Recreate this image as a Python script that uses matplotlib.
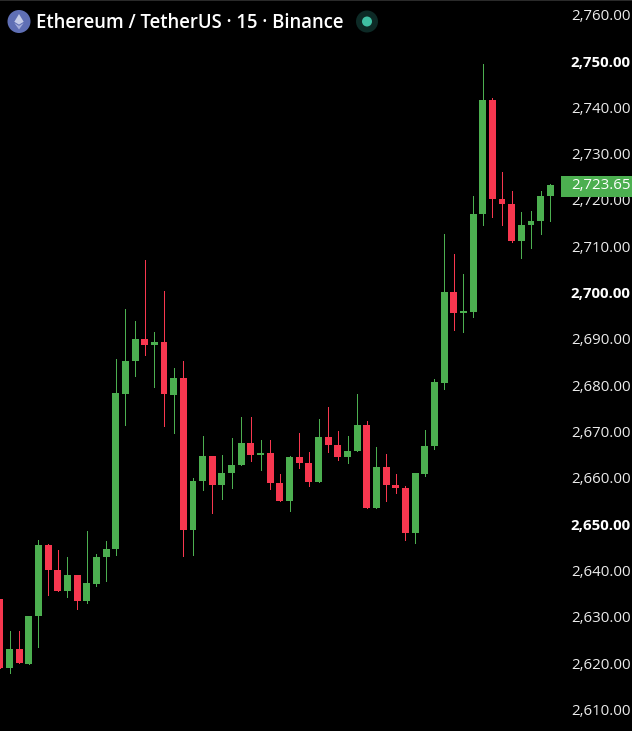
import matplotlib
matplotlib.use("Agg")
import matplotlib.pyplot as plt
from matplotlib.patches import Circle, Polygon, Rectangle

opens = [2634.3,2619.4,2623.5,2620.3,2630.7,2645.9,2640.6,2636.1,2639.5,2633.9,2637.6,2643.3,2645.0,2678.5,2685.6,2690.4,2689.0,2689.7,2678.4,2682.0,
         2649.2,2659.7,2665.1,2658.9,2661.5,2663.2,2667.9,2665.4,2665.8,2659.4,2655.5,2664.9,2663.7,2659.6,2669.2,2667.6,2665.0,2666.2,2671.8,2654.0,
         2662.8,2658.8,2658.3,2648.6,2661.3,2667.2,2681.0,2700.5,2695.9,2696.3,2717.3,2742.0,2720.5,2719.6,2711.6,2715.0,2715.9,2721.3]
highs = [2634.3,2627.4,2627.4,2630.7,2647.0,2646.1,2644.9,2643.3,2639.5,2649.0,2644.0,2646.8,2686.1,2696.8,2694.3,2707.4,2691.9,2700.8,2684.1,2685.6,
         2660.4,2669.5,2665.1,2665.4,2669.0,2673.6,2673.6,2668.6,2668.6,2661.3,2665.1,2670.1,2666.0,2673.1,2675.7,2670.5,2669.5,2678.5,2672.7,2667.1,
         2665.6,2661.3,2658.7,2661.5,2670.8,2681.8,2713.1,2708.7,2704.4,2721.3,2749.8,2742.4,2726.4,2722.3,2717.8,2718.0,2722.3,2723.9]
lows = [2619.4,2618.2,2620.5,2620.3,2624.0,2635.1,2636.1,2634.8,2632.2,2633.5,2637.1,2638.2,2643.8,2671.9,2682.3,2687.0,2680.1,2671.7,2670.0,2643.6,
        2643.8,2657.9,2652.9,2655.9,2658.3,2663.2,2664.1,2662.2,2658.1,2655.5,2653.3,2662.6,2658.7,2659.6,2665.9,2664.3,2663.7,2666.2,2654.0,2654.0,
        2655.5,2657.2,2646.9,2646.4,2660.9,2666.7,2679.5,2692.4,2691.8,2695.2,2715.1,2716.8,2715.1,2711.3,2707.9,2710.1,2713.1,2715.9]
closes = [2619.4,2623.5,2620.5,2630.7,2645.9,2640.6,2636.1,2639.5,2633.9,2637.7,2643.3,2645.0,2678.7,2685.6,2690.4,2689.0,2689.7,2678.6,2682.0,2649.2,
          2659.7,2665.1,2658.9,2661.5,2663.2,2667.9,2665.4,2665.8,2659.4,2655.5,2664.9,2663.7,2659.6,2669.2,2667.6,2665.0,2666.2,2671.8,2654.0,2662.8,
          2658.8,2658.3,2648.6,2661.5,2667.3,2681.1,2700.5,2696.1,2696.4,2717.4,2742.0,2720.5,2719.6,2711.6,2715.0,2715.9,2721.3,2723.65]
price_ticks = [2610,2620,2630,2640,2650,2660,2670,2680,2690,2700,2710,2720,2730,2740,2750,2760]
bold_ticks = [2650,2700,2750]
last_price = 2723.65
title = "Ethereum / TetherUS · 15 · Binance"

GREEN, RED = "#4CAF50", "#F7374F"
W, H = 632, 731
FONT = "Open Sans"

fig = plt.figure(figsize=(W/100, H/100), dpi=100, facecolor="black")
ax = fig.add_axes([0, 0, 1, 1], facecolor="black")
ax.set_xlim(0.0155, 65.46)
ax.set_ylim(2605.78, 2763.56)

for i, (o, h, l, c) in enumerate(zip(opens, highs, lows, closes)):
    col = GREEN if c >= o else RED
    ax.vlines(i, l, h, color=col, linewidth=0.72, antialiased=False, zorder=2)
    ax.bar(i, abs(c - o), bottom=min(o, c), width=0.72, color=col, linewidth=0, zorder=3)

ax.yaxis.tick_right()
ax.set_yticks(price_ticks)
ax.set_yticklabels([f"{p:,.2f}" for p in price_ticks])
ax.tick_params(axis="y", length=0, pad=-44, labelcolor="#ECECEC", labelsize=10.8)
ax.tick_params(axis="x", bottom=False, labelbottom=False)
for p, lab in zip(price_ticks, ax.get_yticklabels()):
    lab.set_fontfamily(FONT)
    lab.set_verticalalignment("center")
    if p in bold_ticks:
        lab.set_fontweight("bold")
        lab.set_color("white")
for s in ax.spines.values():
    s.set_visible(False)

# pixel-space overlay for header and price tag
ov = fig.add_axes([0, 0, 1, 1], facecolor="none")
ov.set_xlim(0, W)
ov.set_ylim(H, 0)
ov.axis("off")
ov.add_patch(Rectangle((0, 0), W, 1, color="#2A2A2A", lw=0))
ov.add_patch(Rectangle((561, 176), 71, 21, color=GREEN, lw=0))
ov.text(571, 185.5, f"{last_price:,.2f}", color="white", fontsize=10.8, family=FONT, va="center", ha="left")

ov.add_patch(Circle((19, 21.5), 11.5, color="#5F6FB5", lw=0))
ov.add_patch(Polygon([(19, 14), (14.3, 21.8), (19, 24.6), (23.7, 21.8)], color="#C5CCE8", lw=0))
ov.add_patch(Polygon([(19, 25.8), (14.3, 23), (19, 29.5), (23.7, 23)], color="#A5AEDB", lw=0))
ov.text(36, 23, title, color="white", fontsize=13.35, family=FONT, fontweight="semibold", va="center", ha="left")
ov.add_patch(Circle((367, 21.5), 11, color="#0D2A26", lw=0))
ov.add_patch(Circle((367, 21.5), 5, color="#3FBFA3", lw=0))

fig.savefig("out.png", dpi=100, facecolor="black")
